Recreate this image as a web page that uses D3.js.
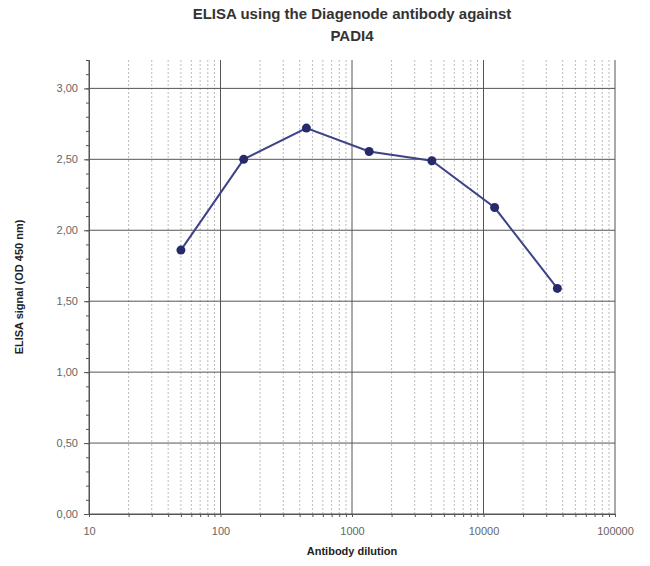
<!DOCTYPE html>
<html>
<head>
<meta charset="utf-8">
<script src="https://cdn.jsdelivr.net/npm/d3@7"></script>
<style>
  body { margin: 0; background: #fff; }
  text { font-family: "Liberation Sans", Arial, sans-serif; }
</style>
</head>
<body>
<div id="chart"></div>
<script>
// data
const dilutions = [50, 150, 450, 1350, 4050, 12150, 36450]
const signal = [1.86, 2.50, 2.72, 2.555, 2.49, 2.16, 1.59]
const yTicks = [0, 0.5, 1, 1.5, 2, 2.5, 3]
const xTicks = [10, 100, 1000, 10000, 100000]

let width = 650, height = 566
let margin = {left: 89, right: 35, top: 60, bottom: 52}

let svg = d3.select('#chart').append('svg')
    .attr('width', width)
    .attr('height', height)

let xScale = d3.scaleLog().domain([10, 100000]).range([margin.left, width - margin.right])
let yScale = d3.scaleLinear().domain([0, 3.2]).range([height - margin.bottom, margin.top])

let fmt = d => d.toFixed(2).replace('.', ',')

// minor vertical grid (2..9 per decade)
let minor = []
for (let dec = 10; dec < 100000; dec *= 10) {
    for (let k = 2; k <= 9; k++) minor.push(dec * k)
}

svg.append('g').selectAll('line').data(minor).enter().append('line')
    .attr('x1', d => xScale(d)).attr('x2', d => xScale(d))
    .attr('y1', yScale(3.2)).attr('y2', yScale(0))
    .attr('stroke', '#bbb')
    .attr('stroke-dasharray', '2,2')
    .attr('stroke-width', 1)

// major grid
svg.append('g').selectAll('line').data(xTicks).enter().append('line')
    .attr('x1', d => xScale(d)).attr('x2', d => xScale(d))
    .attr('y1', yScale(3.2)).attr('y2', yScale(0))
    .attr('stroke', '#555')
    .attr('stroke-width', 1)

svg.append('g').selectAll('line').data(yTicks).enter().append('line')
    .attr('x1', xScale(10)).attr('x2', xScale(100000))
    .attr('y1', d => yScale(d)).attr('y2', d => yScale(d))
    .attr('stroke', '#555')
    .attr('stroke-width', 1)

// axes
let yMinor = d3.range(0, 33).map(d => d / 10)
svg.append('g')
    .attr('transform', 'translate(' + margin.left + ',0)')
    .call(d3.axisLeft(yScale).tickValues(yMinor).tickSize(3).tickFormat(''))
    .call(g => g.select('.domain').attr('stroke', '#555'))
    .call(g => g.selectAll('line').attr('stroke', '#555'))

svg.append('g')
    .attr('transform', 'translate(' + margin.left + ',0)')
    .call(d3.axisLeft(yScale).tickValues(yTicks).tickSize(5).tickPadding(6).tickFormat(fmt))
    .call(g => g.select('.domain').remove())
    .call(g => g.selectAll('line').attr('stroke', '#555'))
    .call(g => g.selectAll('text').attr('fill', '#666').attr('font-size', 11)
        .style('font-family', '"Liberation Sans", Arial, sans-serif'))

svg.append('g')
    .attr('transform', 'translate(0,' + yScale(0) + ')')
    .call(d3.axisBottom(xScale).tickValues(minor.concat(xTicks)).tickSize(3).tickFormat(''))
    .call(g => g.select('.domain').attr('stroke', '#555'))
    .call(g => g.selectAll('line').attr('stroke', '#555'))

svg.append('g')
    .attr('transform', 'translate(0,' + yScale(0) + ')')
    .call(d3.axisBottom(xScale).tickValues(xTicks).tickSize(0).tickPadding(13).tickFormat(d3.format('d')))
    .call(g => g.select('.domain').remove())
    .call(g => g.selectAll('text').attr('fill', '#666').attr('font-size', 11)
        .style('font-family', '"Liberation Sans", Arial, sans-serif'))

// series
let points = dilutions.map((d, i) => ({x: d, y: signal[i]}))

svg.append('path')
    .datum(points)
    .attr('fill', 'none')
    .attr('stroke', '#3d4387')
    .attr('stroke-width', 2)
    .attr('d', d3.line().x(d => xScale(d.x)).y(d => yScale(d.y)))

svg.append('g').selectAll('circle').data(points).enter().append('circle')
    .attr('cx', d => xScale(d.x))
    .attr('cy', d => yScale(d.y))
    .attr('r', 4.5)
    .attr('fill', '#262a6a')

// titles
svg.append('text')
    .attr('x', 352).attr('y', 19)
    .attr('text-anchor', 'middle')
    .attr('font-size', 15).attr('font-weight', 'bold').attr('fill', '#333')
    .text('ELISA using the Diagenode antibody against')

svg.append('text')
    .attr('x', 352).attr('y', 41)
    .attr('text-anchor', 'middle')
    .attr('font-size', 15).attr('font-weight', 'bold').attr('fill', '#333')
    .text('PADI4')

svg.append('text')
    .attr('x', 352).attr('y', 555)
    .attr('text-anchor', 'middle')
    .attr('font-size', 11).attr('font-weight', 'bold').attr('fill', '#222')
    .text('Antibody dilution')

svg.append('text')
    .attr('transform', 'translate(23,' + 287 + ') rotate(-90)')
    .attr('text-anchor', 'middle')
    .attr('font-size', 11).attr('font-weight', 'bold').attr('fill', '#222')
    .text('ELISA signal (OD 450 nm)')
</script>
</body>
</html>
